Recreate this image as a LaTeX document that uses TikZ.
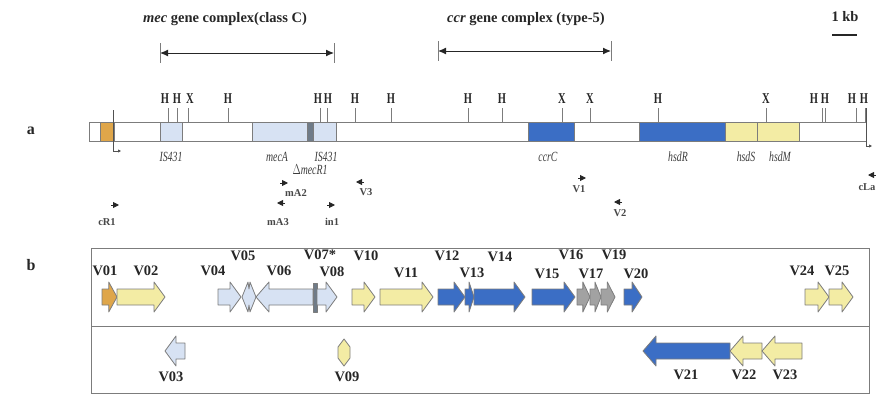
\documentclass[tikz,border=0pt]{standalone}
\usepackage{fontspec}
\setmainfont{Liberation Serif}
\usetikzlibrary{positioning, arrows.meta, calc}

\definecolor{orangegene}{HTML}{DFA64A}
\definecolor{yellowgene}{HTML}{F3ECA4}
\definecolor{palegene}{HTML}{D7E2F3}
\definecolor{bluegene}{HTML}{3B6EC5}
\definecolor{graygene}{HTML}{A2A2A2}
\definecolor{darkseg}{HTML}{6F7B88}
\definecolor{edge}{HTML}{7C7C7C}
\definecolor{ink}{HTML}{262626}

% narrow letters as in the scanned figure
\newcommand{\narrow}[1]{\scalebox{0.7}[1]{#1}}

% gene arrows: start, end, row centre, colour
\newcommand{\genefwd}[4]{%
  \pgfmathsetmacro{\headlen}{min(11,0.55*(#2-#1))}
  \filldraw[gene, fill=#4] (#1,{#3-8}) -- ({#2-\headlen},{#3-8}) -- ({#2-\headlen},{#3-15})
    -- (#2,#3) -- ({#2-\headlen},{#3+15}) -- ({#2-\headlen},{#3+8}) -- (#1,{#3+8}) -- cycle;}
\newcommand{\generev}[4]{%
  \pgfmathsetmacro{\headlen}{min(13,0.55*(#2-#1))}
  \filldraw[gene, fill=#4] (#2,{#3-8}) -- ({#1+\headlen},{#3-8}) -- ({#1+\headlen},{#3-15})
    -- (#1,#3) -- ({#1+\headlen},{#3+15}) -- ({#1+\headlen},{#3+8}) -- (#2,{#3+8}) -- cycle;}

\begin{document}
\begin{tikzpicture}[x=1pt, y=-1pt,
    gene/.style={draw=edge, line width=0.8pt, line join=round},
    segment/.style={draw=edge, line width=0.9pt},
    site/.style={draw=edge, line width=0.8pt},
    title/.style={font=\fontsize{14.5}{14.5}\selectfont\bfseries, text=ink},
    panel/.style={font=\fontsize{16}{16}\selectfont\bfseries, text=ink},
    sitelabel/.style={font=\fontsize{15}{15}\selectfont\bfseries, text=ink, inner sep=0pt},
    genelabel/.style={font=\fontsize{14}{14}\selectfont\itshape, text=ink!90, inner sep=0pt},
    primerlabel/.style={font=\fontsize{10.5}{10.5}\selectfont\bfseries, text=ink!85, inner sep=0pt},
    vlabel/.style={font=\fontsize{14.5}{14.5}\selectfont\bfseries, text=ink, inner sep=0pt},
    span/.style={{Latex[length=8pt,width=7pt]}-{Latex[length=8pt,width=7pt]}, line width=1pt, ink},
    primer/.style={-{Triangle[length=6pt,width=6pt]}, line width=0.9pt, ink}
]
\useasboundingbox (0,0) rectangle (876,399);

% Complex spans
\node[title] (mectitle) at (225,19) {\textit{mec} gene complex(class C)};
\node[title] (ccrtitle) at (526,19) {\textit{ccr} gene complex (type-5)};
\coordinate (mecL) at (160,53);
\coordinate (mecR) at (334,53);
\coordinate (ccrL) at (438,51);
\coordinate (ccrR) at (611,51);
\draw[span] (mecL) -- (mecR);
\draw[span] (ccrL) -- (ccrR);
\foreach \c in {mecL, mecR, ccrL, ccrR}
    \draw[edge, line width=0.9pt] ($(\c)+(0,-10)$) -- ($(\c)+(0,10)$);

% Scale bar
\node[title] (kb) at (845,17) {1 kb};
\draw[ink, line width=1.6pt] (832,35) -- (857,35);

% Panel labels
\node[panel] (pa) at (31,131) {a};
\node[panel] (pb) at (31,265) {b};

% Map of the element
\draw[segment, fill=white] (89,122) rectangle (866,141);
\draw[segment, fill=orangegene] (100,122) rectangle (114,141);
\draw[segment, fill=palegene] (160,122) rectangle (182,141);
\draw[segment, fill=palegene] (252,122) rectangle (307,141);
\draw[segment, fill=darkseg] (307,122) rectangle (313,141);
\draw[segment, fill=palegene] (313,122) rectangle (336,141);
\draw[segment, fill=bluegene] (528,122) rectangle (574,141);
\draw[segment, fill=bluegene] (639,122) rectangle (725,141);
\draw[segment, fill=yellowgene] (725,122) rectangle (757,141);
\draw[segment, fill=yellowgene] (757,122) rectangle (799,141);

% Element ends
\draw[ink!80, line width=0.9pt, -{Triangle[length=3pt,width=3pt]}] (113,110) -- (113,151) -- (121,151);
\draw[ink!80, line width=0.9pt, -{Triangle[length=3pt,width=3pt]}] (866,108) -- (866,146) -- (872,146);

% Restriction sites
\foreach \tx/\lx/\s in {168/165/H, 177/177/H, 188/190/X, 228/228/H, 320/318/H,
    327/328/H, 355/355/H, 391/391/H, 468/468/H, 502/502/H, 562/562/X, 590/590/X,
    658/658/H, 766/766/X, 822/814/H, 825/825/H, 856/852/H, 865/864/H}
{
    \draw[site] (\tx,108) -- (\tx,122);
    \node[sitelabel] (s\tx) at (\lx,99) {\narrow{\s}};
}

% Gene names
\node[genelabel] (is1) at (171,157) {\narrow{IS\textit{431}}};
\node[genelabel] (meca) at (277,157) {\narrow{mecA}};
\node[genelabel] (is2) at (326,157) {\narrow{IS\textit{431}}};
\node[genelabel] (mecr) at (310,170) {\narrow{$\Delta$mecR1}};
\node[genelabel] (ccrc) at (548,157) {\narrow{ccrC}};
\node[genelabel] (hsdr) at (678,157) {\narrow{hsdR}};
\node[genelabel] (hsds) at (746,157) {\narrow{hsdS}};
\node[genelabel] (hsdm) at (780,157) {\narrow{hsdM}};

% Primers
\foreach \p/\x/\y/\d/\lx/\ly in {cR1/111/205/1/107/222, mA2/280/183/1/296/193,
    mA3/285/203/-1/278/222, in1/327/205/1/332/222, V3/364/182/-1/366/192,
    V1/578/178/1/579/189, V2/622/202/-1/620/213, cLa/876/175/-1/867/187}
{
    \coordinate (p\p) at (\x,\y);
    \draw[primer] (p\p) -- ++({\d*8},0);
    \node[primerlabel] (l\p) at (\lx,\ly) {\p};
}

% ORF panel
\draw[edge, line width=1pt] (91,248) rectangle (869,393);
\draw[edge, line width=1pt] (91,326) -- (869,326);

% Forward strand
\genefwd{102}{117}{297}{orangegene}
\genefwd{117}{165}{297}{yellowgene}
\genefwd{218}{241}{297}{palegene}
\filldraw[gene, fill=palegene] (242,297) -- (248,282) -- (249,289) -- (250,282) -- (256,297)
    -- (250,312) -- (249,305) -- (248,312) -- cycle;
\generev{256}{313}{297}{palegene}
\filldraw[gene, fill=darkseg] (313,283) rectangle (317,312);
\genefwd{317}{337}{297}{palegene}
\genefwd{352}{375}{297}{yellowgene}
\genefwd{380}{433}{297}{yellowgene}
\genefwd{438}{465}{297}{bluegene}
\genefwd{465}{474}{297}{bluegene}
\genefwd{474}{525}{297}{bluegene}
\genefwd{532}{575}{297}{bluegene}
\genefwd{577}{590}{297}{graygene}
\genefwd{590}{601}{297}{graygene}
\genefwd{601}{615}{297}{graygene}
\genefwd{624}{642}{297}{bluegene}
\genefwd{805}{829}{297}{yellowgene}
\genefwd{829}{853}{297}{yellowgene}

% Reverse strand
\generev{165}{185}{351}{palegene}
\filldraw[gene, fill=yellowgene] (344,339) -- (350,347) -- (350,358) -- (344,366)
    -- (338,358) -- (338,347) -- cycle;
\generev{643}{730}{351}{bluegene}
\generev{730}{762}{351}{yellowgene}
\generev{762}{802}{351}{yellowgene}

% ORF labels
\foreach \lab/\x/\y in {V01/105/271, V02/146/271, V04/213/271, V05/243/256,
    V06/279/271, V08/332/272, V10/366/256, V11/406/273, V12/447/256, V13/472/273,
    V14/500/257, V15/547/274, V16/571/255, V17/591/274, V19/614/255, V20/636/274,
    V24/802/271, V25/837/271, V03/171/377, V09/347/377, V21/686/375, V22/744/375,
    V23/785/375}
    \node[vlabel] (l\lab) at (\x,\y) {\lab};
\node[vlabel] (lV07) at (320,255) {V07*};

\end{tikzpicture}
\end{document}
